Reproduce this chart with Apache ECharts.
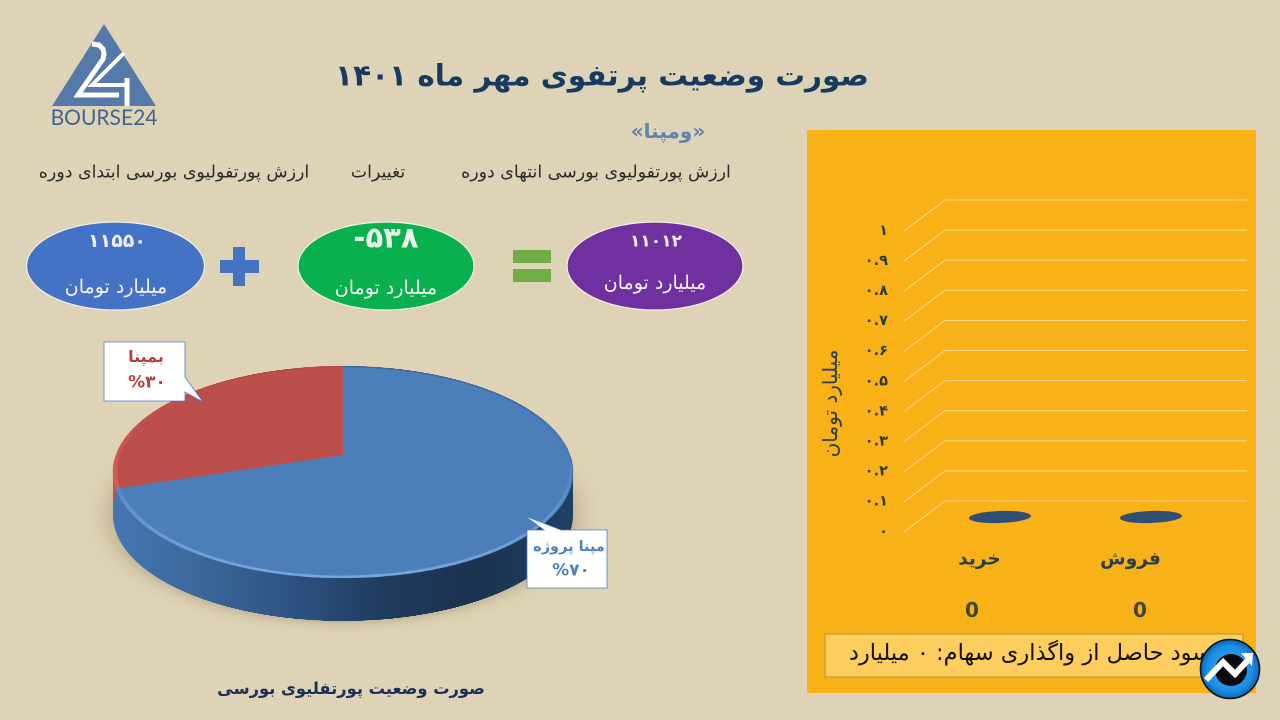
<!DOCTYPE html>
<html><head><meta charset="utf-8">
<style>
html,body{margin:0;padding:0;width:1280px;height:720px;overflow:hidden;background:#DFD3B7}
.layer{position:absolute}
#wall{left:43px;top:172px;width:600px;height:720px;transform-origin:300px 300px;transform:scaleY(.461)}
#top{left:43px;top:155px;width:600px;height:600px;transform-origin:300px 300px;transform:perspective(1260px) rotateX(62.9deg)}
#main{left:0;top:0;width:1280px;height:720px}
</style>
<script src="https://cdn.jsdelivr.net/npm/echarts@6/dist/echarts.min.js"></script>
</head><body>
<div id="wall" class="layer"></div>
<div id="top" class="layer"></div>
<div id="main" class="layer"></div>
<script>
// ---- data ----
const titleText = 'صورت وضعیت پرتفوی مهر ماه ۱۴۰۱';
const subTitle = '«ومپنا»';
const headings = ['ارزش پورتفولیوی بورسی انتهای دوره', 'تغییرات', 'ارزش پورتفولیوی بورسی ابتدای دوره'];
const amounts = ['۱۱۰۱۲', '-۵۳۸', '۱۱۵۵۰'];
const unitText = 'میلیارد تومان';
const pieNames = ['مپنا پروژه', 'بمپنا'];
const pieValues = [70, 30];
const pieValueLabels = ['%۷۰', '%۳۰'];
const pieCaption = 'صورت وضعیت پورتفلیوی بورسی';
const categories = ['خرید', 'فروش'];
const tradeValues = [0, 0];
const yTickValues = [0, 0.1, 0.2, 0.3, 0.4, 0.5, 0.6, 0.7, 0.8, 0.9, 1];
const yTickLabels = ['۰', '۰.۱', '۰.۲', '۰.۳', '۰.۴', '۰.۵', '۰.۶', '۰.۷', '۰.۸', '۰.۹', '۱'];
const profitText = 'سود حاصل از واگذاری سهام: ۰ میلیارد';

const FONT = '"DejaVu Sans"';
const grad = (stops, x2 = 1, y2 = 0) => new echarts.graphic.LinearGradient(0, 0, x2, y2,
  stops.map((c, i) => ({ offset: i / (stops.length - 1), color: c })));
const pieData = (c) => pieNames.map((n, i) => ({ name: n, value: pieValues[i], itemStyle: { color: c[i], borderWidth: 0 } }));
const pieBase = { type: 'pie', silent: true, animation: false, label: { show: false }, labelLine: { show: false } };

// ---- pie: side wall, stacked copies of the pie seen as a flat ellipse ----
const wallChart = echarts.init(document.getElementById('wall'), null, { devicePixelRatio: 2 });
const wallLayers = [];
const LAYERS = 30, DEPTH = 43 / 0.461;
for (let i = LAYERS; i >= 0; i--) {
  const redEdge = i / LAYERS < 0.4;
  const s = Object.assign({}, pieBase, {
    radius: 230, center: [300, 300 + DEPTH * i / LAYERS], startAngle: 80,
    data: pieData([grad(['#4477B2', '#3B6699', '#2C5180', '#1F3A5C', '#1C3350', '#1F4068']), redEdge ? '#D2504A' : '#4477B2'])
  });
  if (i === LAYERS) {
    s.data.forEach(d => { d.itemStyle.shadowBlur = 30; d.itemStyle.shadowColor = 'rgba(80,60,20,.36)'; });
  }
  wallLayers.push(s);
}
wallChart.setOption({ backgroundColor: 'transparent', animation: false, series: wallLayers });

// ---- pie: top face, real perspective on a real pie ----
const topChart = echarts.init(document.getElementById('top'), null, { devicePixelRatio: 2 });
topChart.setOption({
  backgroundColor: 'transparent', animation: false,
  series: [
    Object.assign({}, pieBase, { radius: 227, center: ['50%', '50%'], startAngle: 90,
      data: pieData([grad(['#3D689C', '#4A7EBB', '#78A8E2'], 0, 1), grad(['#B44A46', '#C0504D', '#D8605A'], 0, 1)]) }),
    Object.assign({}, pieBase, { radius: 223, center: ['50%', '50%'], startAngle: 90,
      data: pieData(['#4C7EBA', '#BC4F4B']) })
  ]
});

// ---- overlay chart ----
const T = (text, x, y, size, fill, o = {}) => ({
  type: 'text', x, y, z: o.z || 5, rotation: o.rotation || 0, silent: true,
  style: { text, fill, fontSize: size, fontFamily: o.family || FONT, fontWeight: o.weight || 'normal', align: 'center', verticalAlign: 'middle' }
});
const P = (points, style, z = 4, shape = 'polygon') => ({ type: shape, z, silent: true, shape: { points }, style });
const E = (cx, cy, rx, ry, fill) => ({ type: 'ellipse', z: 3, silent: true, shape: { cx, cy, rx, ry }, style: { fill, stroke: '#F3F1E6', lineWidth: 1.2 } });
const R = (x, y, w, h, style, z = 3) => ({ type: 'rect', z, silent: true, shape: { x, y, width: w, height: h }, style });
const white = (w) => ({ stroke: '#fff', lineWidth: w, fill: 'none', lineJoin: 'miter' });

const graphics = [
  // orange panel
  R(807, 130, 449, 563, { fill: '#F9B118' }, -10),
  // logo
  P([[104, 24], [52, 106], [156, 106]], { fill: '#5579A8' }),
  P([[92, 44], [99, 45], [103, 49], [104, 54], [103, 59], [78, 95], [119, 95]], white(5), 5, 'polyline'),
  P([[124, 53], [92, 85], [127, 85]], white(4), 5, 'polyline'),
  P([[127, 78], [127, 106]], white(5), 5, 'polyline'),
  T('BOURSE24', 104, 118, 21, '#3F6391', { family: 'Lato' }),
  // headings
  T(titleText, 602, 78, 29.5, '#173B5F', { weight: 'bold' }),
  T(subTitle, 668, 133, 20, '#5F83AA', { weight: 'bold' }),
  T(headings[0], 596, 173, 17.4, '#2B2B2B'),
  T(headings[1], 378, 173, 17.4, '#2B2B2B'),
  T(headings[2], 174, 173, 17.4, '#2B2B2B'),
  // equation
  E(115.5, 266, 89, 44, '#4472C4'),
  E(386, 266, 88, 44, '#0AAF4E'),
  E(655, 266, 88, 44, '#7030A0'),
  T(amounts[2], 117, 242, 19, '#EDEDF5', { weight: 'bold' }),
  T(amounts[1], 386, 240, 29, '#EAF5EC', { weight: 'bold' }),
  T(amounts[0], 656, 242, 17, '#EFEAF5', { weight: 'bold' }),
  T(unitText, 116, 288, 19, '#F3F3F3'),
  T(unitText, 386, 289, 19, '#F3F3F3'),
  T(unitText, 655, 284, 19, '#F3F3F3'),
  R(233, 247, 12, 39, { fill: '#4472C4' }),
  R(220, 260, 39, 13, { fill: '#4472C4' }),
  R(513, 250, 38, 13, { fill: '#70AD47' }),
  R(513, 269, 38, 13, { fill: '#70AD47' }),
  // callouts
  P([[104, 342], [185, 342], [185, 377], [203, 402], [185, 392], [185, 401], [104, 401]], { fill: '#fff', stroke: '#4F81BD', lineWidth: 0.8 }),
  T(pieNames[1], 146, 358, 16, '#B5403D', { weight: 'bold' }),
  T(pieValueLabels[1], 147, 383, 17, '#B5403D', { weight: 'bold' }),
  P([[527, 530], [544, 530], [525, 516], [561, 530], [607, 530], [607, 588], [527, 588]], { fill: '#fff', stroke: '#4F81BD', lineWidth: 0.8 }),
  T(pieNames[0], 569, 547, 14.5, '#4F81BD', { weight: 'bold' }),
  T(pieValueLabels[0], 571, 571, 17, '#4F81BD', { weight: 'bold' }),
  T(pieCaption, 351, 690, 16.3, '#1B2F5B', { weight: 'bold' }),
  // values under the categories
  T(String(tradeValues[0]), 972, 612, 20, '#3B4A33', { weight: 'bold' }),
  T(String(tradeValues[1]), 1140, 612, 20, '#3B4A33', { weight: 'bold' }),
  // profit box
  R(825, 634, 418, 43, { fill: '#FDCE5E', stroke: '#A89A2E', lineWidth: 1 }, 6),
  T(profitText, 1030, 654, 22.5, '#111', { z: 7 }),
  // round badge
  { type: 'circle', z: 8, silent: true, shape: { cx: 1230, cy: 669, r: 29.5 },
    style: { fill: new echarts.graphic.RadialGradient(0.5, 0.5, 0.5, [{ offset: 0, color: '#3FA9F5' }, { offset: 0.75, color: '#1C8FE3' }, { offset: 1, color: '#0B5FB0' }]), stroke: '#08121C', lineWidth: 1.6 } },
  { type: 'circle', z: 8, silent: true, shape: { cx: 1231, cy: 670, r: 16 }, style: { fill: '#0B0B0B' } },
  P([[1206, 680], [1223, 662], [1235, 674], [1249, 659]], { stroke: '#fff', lineWidth: 6, fill: 'none', lineJoin: 'miter' }, 9, 'polyline'),
  P([[1241, 653], [1253, 653], [1252, 666]], { fill: '#fff' }, 9)
];

const main = echarts.init(document.getElementById('main'), null, { devicePixelRatio: 2 });
main.setOption({
  backgroundColor: 'transparent',
  animation: false,
  grid: { left: 904, top: 231, width: 302, height: 301, containLabel: false },
  xAxis: {
    type: 'category', data: categories,
    axisLine: { show: false }, axisTick: { show: false }, splitLine: { show: false },
    axisLabel: { margin: 18, fontSize: 18.5, fontWeight: 'bold', color: '#2B3F42', fontFamily: FONT }
  },
  yAxis: {
    type: 'value', min: 0, max: 1, interval: 0.1,
    name: unitText, nameLocation: 'middle', nameRotate: 90, nameGap: 62,
    nameTextStyle: { fontSize: 20, color: '#2B3F42', fontFamily: FONT, padding: [0, 44, 0, 0] },
    axisLine: { show: false }, axisTick: { show: false }, splitLine: { show: false },
    axisLabel: { margin: 16, fontSize: 14.5, fontWeight: 'bold', color: '#2B3F42', fontFamily: FONT, padding: [0, 0, 4, 0],
      formatter: v => yTickLabels[yTickValues.findIndex(t => Math.abs(t - v) < 1e-6)] }
  },
  series: [
    { type: 'custom', silent: true, z: 1,
      data: yTickValues.map(v => [0, v]),
      renderItem: (params, api) => {
        const cs = params.coordSys, y = api.coord([0, api.value(1)])[1];
        return { type: 'polyline', silent: true,
          shape: { points: [[cs.x, y], [cs.x + 41, y - 31], [cs.x + cs.width + 41, y - 31]] },
          style: { stroke: 'rgba(255,240,205,.62)', lineWidth: 1.1, fill: 'none' } };
      } },
    { type: 'scatter', silent: true, z: 3,
      data: tradeValues.map((v, i) => [i, v]),
      symbol: 'path://M0,50 C0,22 45,0 100,0 C155,0 200,22 200,50 C200,78 155,100 100,100 C45,100 0,78 0,50 Z',
      symbolKeepAspect: false, symbolSize: [62, 12], symbolRotate: 2, symbolOffset: [20.5, -15],
      itemStyle: { color: '#2F5074', opacity: 1 } }
  ],
  graphic: { elements: graphics }
});
</script>
</body></html>
